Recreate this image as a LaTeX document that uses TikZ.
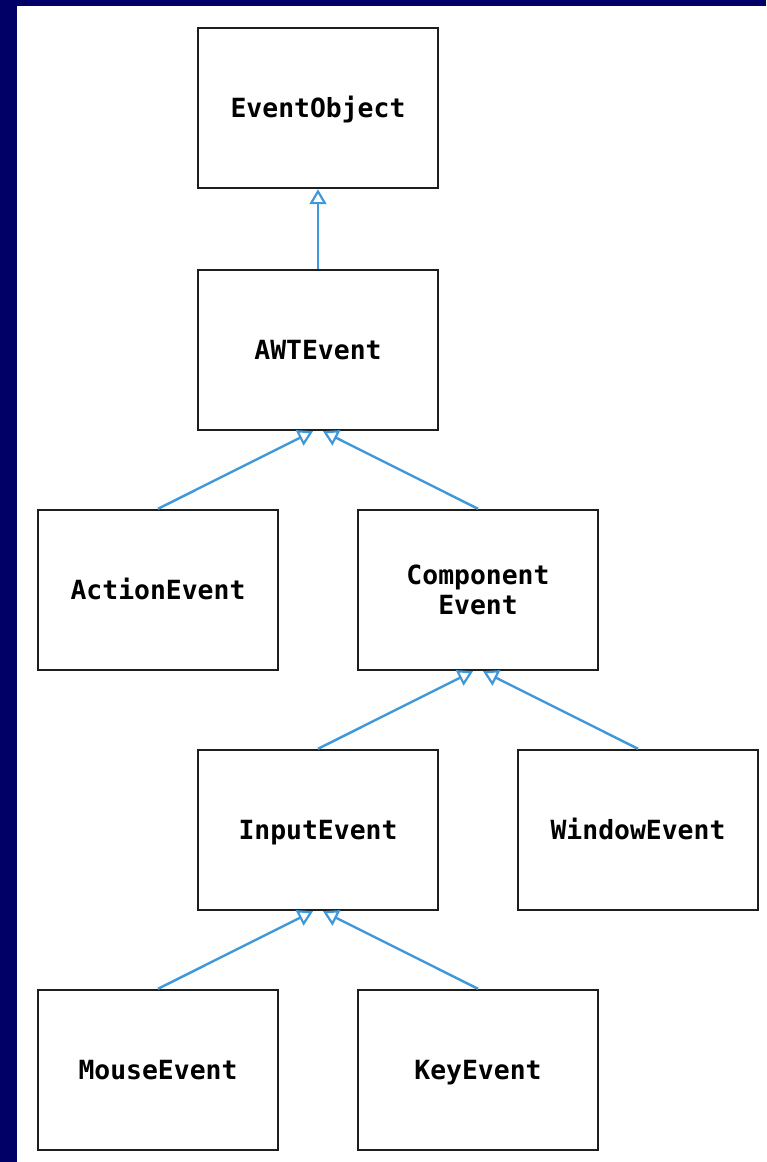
\documentclass[tikz,border=0pt]{standalone}
\usepackage{fontspec}
\setmonofont{DejaVu Sans Mono}
\usetikzlibrary{arrows.meta}
\definecolor{navybg}{RGB}{0,0,102}
\definecolor{linkblue}{RGB}{62,152,218}
\definecolor{boxline}{RGB}{30,30,30}
\tikzset{
  cls/.style={draw=boxline, line width=2.4pt, fill=white, minimum width=240pt, minimum height=160pt,
    inner sep=0pt, align=center, font=\fontsize{26.4}{30}\selectfont\ttfamily\bfseries},
  oneline/.style={cls, text height=19.3pt, text depth=0pt},
  inherit/.style={draw=linkblue, line width=2.4pt, -{Triangle[open, length=15pt, width=17pt, line width=2.2pt]}}
}
\begin{document}
\begin{tikzpicture}[x=1pt, y=-1pt]
\fill[navybg] (0,0) rectangle (766,1162);
\fill[white] (17,6) rectangle (766,1162);
\useasboundingbox (0,0) rectangle (766,1162);
\node[oneline] (eo) at (318,108) {EventObject};
\node[oneline] (awt) at (318,350) {AWTEvent};
\node[oneline] (act) at (158,590) {ActionEvent};
\node[cls] (comp) at (478,590) {Component\\Event};
\node[oneline] (inp) at (318,830) {InputEvent};
\node[oneline] (win) at (638,830) {WindowEvent};
\node[oneline] (mouse) at (158,1070) {MouseEvent};
\node[oneline] (key) at (478,1070) {KeyEvent};
\draw[inherit] (awt.north) -- (eo.south);
\draw[inherit] (act.north) -- ([xshift=-5pt]awt.south);
\draw[inherit] (comp.north) -- ([xshift=5pt]awt.south);
\draw[inherit] (inp.north) -- ([xshift=-5pt]comp.south);
\draw[inherit] (win.north) -- ([xshift=5pt]comp.south);
\draw[inherit] (mouse.north) -- ([xshift=-5pt]inp.south);
\draw[inherit] (key.north) -- ([xshift=5pt]inp.south);
\end{tikzpicture}
\end{document}
